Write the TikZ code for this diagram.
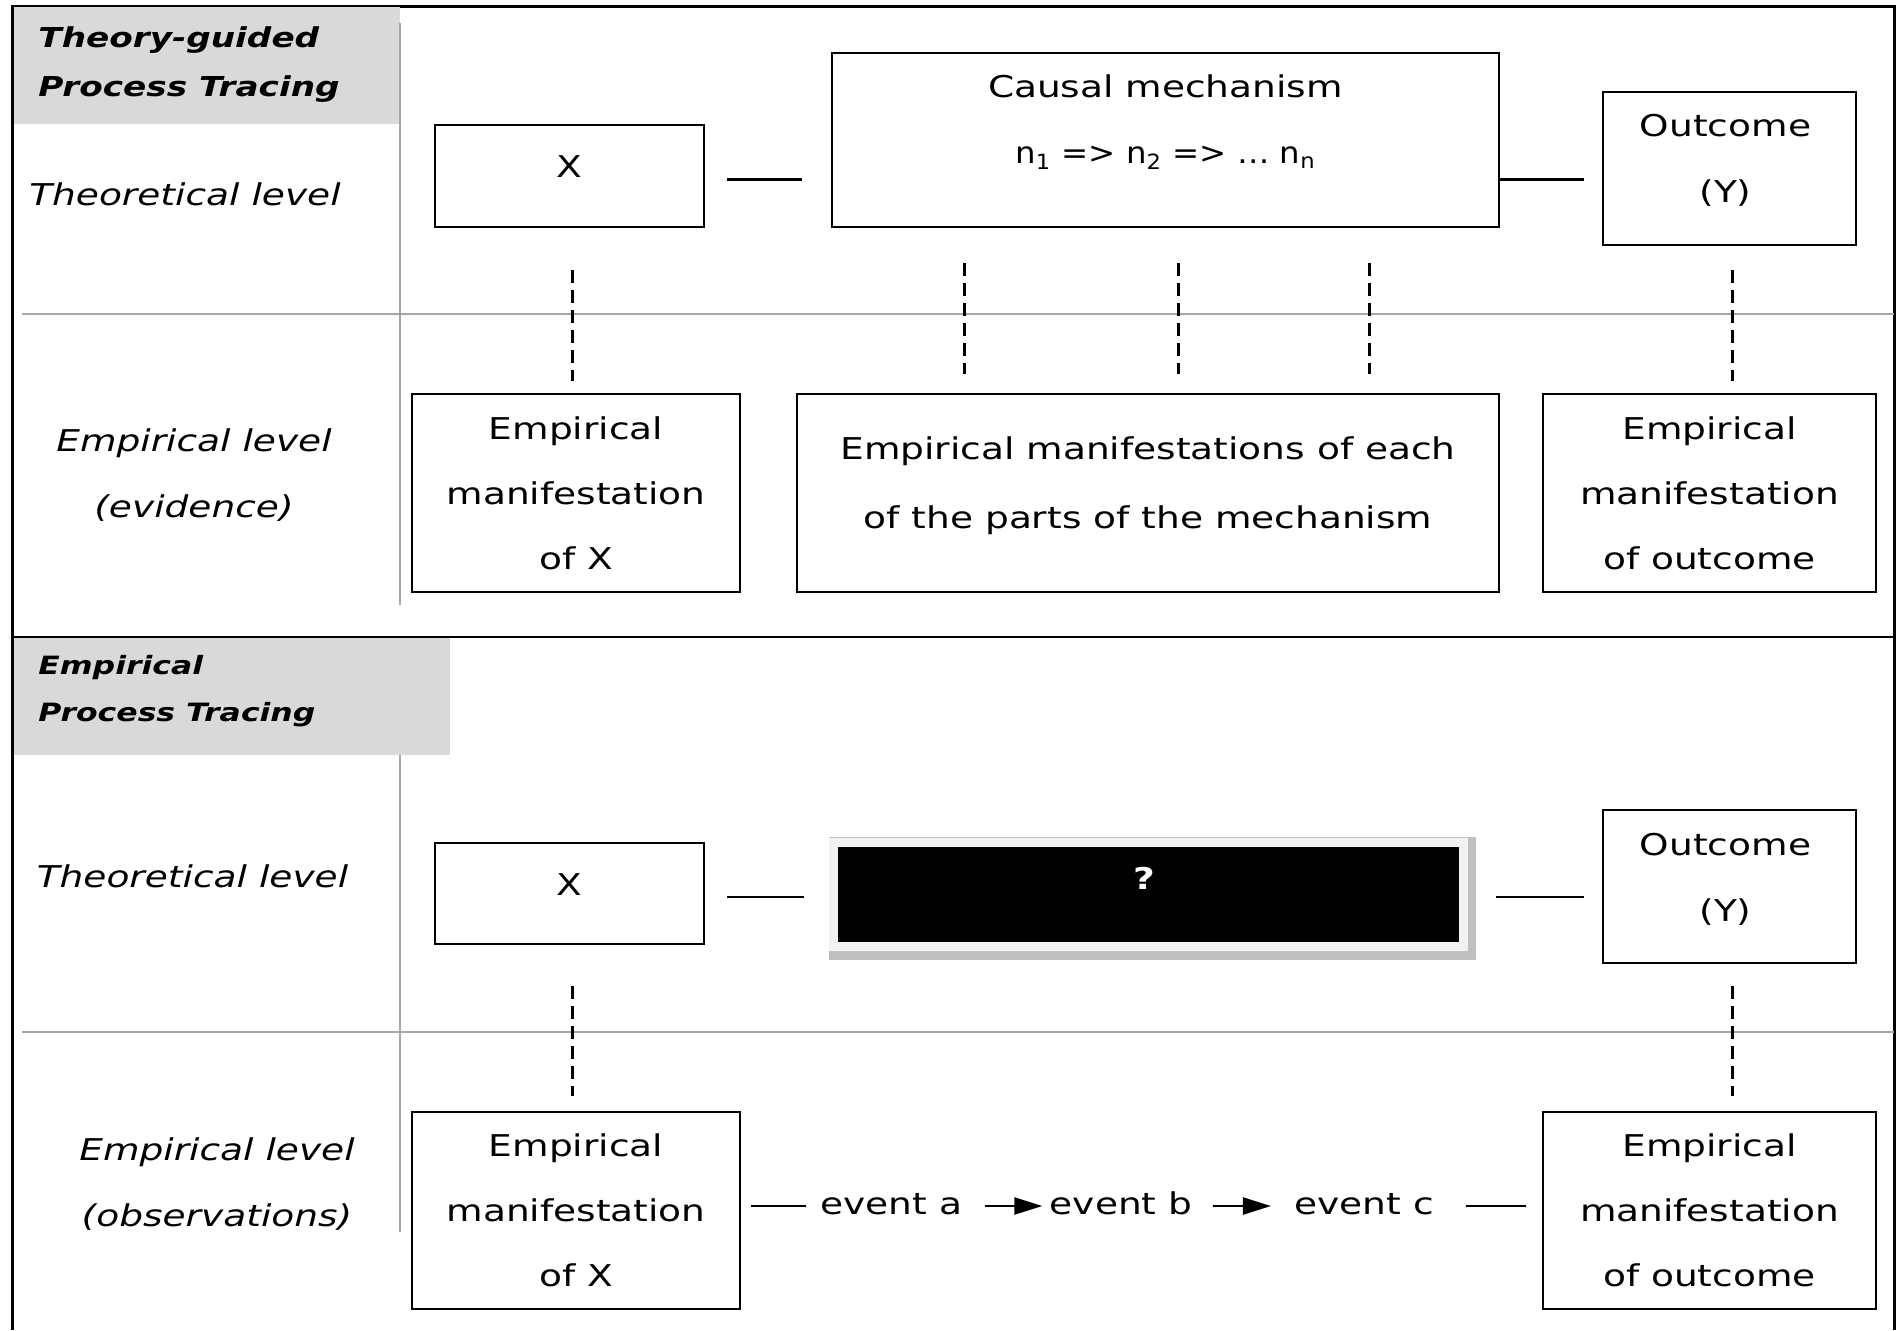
\documentclass[tikz,border=0pt]{standalone}
\usepackage{fontspec}
\setmainfont{DejaVu Sans}[FakeStretch=1.25]
\newfontfamily\narrowfont{DejaVu Sans}[FakeStretch=1.08]
\usetikzlibrary{positioning,calc,arrows.meta}
\pgfdeclarelayer{background}
\pgfsetlayers{background,main}

\definecolor{hdrgrey}{gray}{0.85}
\definecolor{rulegrey}{gray}{0.65}
\definecolor{rimgrey}{gray}{0.95}
\definecolor{shadegrey}{gray}{0.75}

\tikzset{
  every node/.style={font=\fontsize{15}{32.5}\selectfont},
  box/.style={draw, line width=1.35pt, inner sep=0pt, align=center},
  txt/.style={inner sep=0pt, align=center},
  lvl/.style={inner sep=0pt, align=center, font=\fontsize{15}{33}\selectfont\itshape},
  hdr/.style={anchor=north west, inner sep=0pt, align=left},
  link/.style={line width=1.15pt},
  leads/.style={link, -{Triangle[length=14pt,width=8.5pt]}},
  dashlink/.style={line width=1.5pt, dash pattern=on 6.5pt off 3.5pt},
  rule/.style={rulegrey, line width=1.3pt},
  event/.style={inner sep=0pt, anchor=base, text height=8pt, text depth=0pt}
}

\begin{document}
\begin{tikzpicture}[x=0.5pt, y=-0.5pt]
\useasboundingbox (0,0) rectangle (1901,1330);

\draw[line width=1.5pt] (12,1330) |- (1894,6) -- (1894,1330);
\draw[line width=1.15pt] (12,637) -- (1894,637);

% theory-guided panel
\fill[hdrgrey] (14,7) rectangle (400,124);
\node[hdr, font=\fontsize{13.7}{24.2}\selectfont\bfseries\itshape] (hdr1) at (38,26.4)
  {Theory-guided\\Process Tracing};
\draw[rule] (400,23) -- (400,605);
\draw[rule] (22,314) -- (1894,314);
\node[lvl] (th1) at (185,194.5) {Theoretical level};
\node[lvl] (em1) at (194,475) {Empirical level\\(evidence)};

\node[box, minimum width=134.5pt, minimum height=51pt, text depth=9pt] (x1) at (569.5,176) {X};
\node[box, minimum width=333.5pt, minimum height=87pt] (cm1) at (1165.5,140) {};
\node[txt, font=\fontsize{15}{33}\selectfont, below=11.5pt of cm1.north] (cm1t)
  {Causal mechanism\\{\narrowfont n\textsubscript{1} => n\textsubscript{2} => … n\textsubscript{n}}};
\node[box, minimum width=126.5pt, minimum height=76.5pt] (y1) at (1729.5,168.5) {};
\node[txt, font=\fontsize{15}{32.75}\selectfont, below=11.7pt of y1.north, xshift=-2pt] (y1t) {Outcome\\(Y)};

\node[box, minimum width=164pt, minimum height=99pt] (e1) at (576,493) {Empirical\\manifestation\\of X};
\node[box, minimum width=351pt, minimum height=99pt] (e2) at (1148,493) {};
\node[txt, font=\fontsize{15}{34.5}\selectfont, below=21.7pt of e2.north] (e2t)
  {Empirical manifestations of each\\of the parts of the mechanism};
\node[box, minimum width=166.5pt, minimum height=99pt] (e3) at (1709.5,493) {Empirical\\manifestation\\of outcome};

\coordinate (l1) at ([yshift=-1.75pt]x1.east);
\draw[link, shorten <=11pt, shorten >=14.5pt] (l1) -- (l1 -| cm1.west);
\draw[link, shorten >=9pt] (cm1.east |- l1) -- (y1.west |- l1);
\coordinate (dx1) at ([xshift=1.25pt]x1.south);
\draw[dashlink, shorten <=21pt, shorten >=6pt] (dx1) -- (dx1 |- e1.north);
\foreach \f in {0.2,0.52,0.805} {
  \coordinate (mp) at ($(cm1.south west)!\f!(cm1.south east)$);
  \draw[dashlink, shorten <=17.5pt, shorten >=9.5pt] (mp) -- (mp |- e2.north);
}
\coordinate (dy1) at ([xshift=1.25pt]y1.south);
\draw[dashlink, shorten <=12pt, shorten >=6pt] (dy1) -- (dy1 |- e3.north);

% empirical panel
\fill[hdrgrey] (14,638) rectangle (450,755);
\node[hdr, font=\fontsize{12.6}{23.5}\selectfont\bfseries\itshape] (hdr2) at (38,654.5)
  {Empirical\\Process Tracing};
\draw[rule] (400,755) -- (400,1232);
\draw[rule] (22,1032) -- (1894,1032);
\node[lvl] (th2) at (192.5,876) {Theoretical level};
\node[lvl] (em2) at (217,1184) {Empirical level\\(observations)};

\node[box, minimum width=134.5pt, minimum height=50.5pt, text depth=8.5pt] (x2) at (569.5,893.5) {X};
\node[draw=rimgrey, line width=4.5pt, fill=black, inner sep=0pt,
  minimum width=314.75pt, minimum height=52.25pt] (qm) at (1148.25,894.25) {};
\node[inner sep=0pt, text=white, font=\fontsize{15}{18}\selectfont\bfseries] (qmt) at (1144,878) {?};
\begin{pgfonlayer}{background}
\fill[shadegrey] ([shift={(-0.5,-0.5)}]qm.north west) rectangle ([shift={(8.5,8.5)}]qm.south east);
\end{pgfonlayer}
\node[box, minimum width=126.5pt, minimum height=76.5pt] (y2) at (1729.5,886.5) {};
\node[txt, font=\fontsize{15}{33}\selectfont, below=12pt of y2.north, xshift=-2pt] (y2t) {Outcome\\(Y)};

\node[box, minimum width=164pt, minimum height=98.5pt] (e4) at (576,1210.5) {Empirical\\manifestation\\of X};
\node[box, minimum width=166.5pt, minimum height=98.5pt] (e6) at (1709.5,1210.5) {Empirical\\manifestation\\of outcome};
\node[event] (eva) at (891.5,1214) {event a};
\node[event] (evb) at (1121,1214) {event b};
\node[event] (evc) at (1364,1214) {event c};

\coordinate (l2) at ([yshift=-1.75pt]x2.east);
\draw[link, shorten <=11pt, shorten >=12.75pt] (l2) -- (l2 -| qm.west);
\draw[link, shorten <=14pt, shorten >=9pt] (qm.east |- l2) -- (y2.west |- l2);
\coordinate (dx2) at ([xshift=1.25pt]x2.south);
\draw[dashlink, shorten <=20.5pt, shorten >=7.5pt] (dx2) -- (dx2 |- e4.north);
\coordinate (dy2) at ([xshift=1.25pt]y2.south);
\draw[dashlink, shorten <=11pt, shorten >=7.5pt] (dy2) -- (dy2 |- e6.north);
\draw[link, shorten <=5pt, shorten >=7pt] (e4.east |- eva.west) -- (eva.west);
\draw[leads, shorten <=11pt, shorten >=3.5pt] (eva) -- (evb);
\draw[leads, shorten <=10pt, shorten >=11.5pt] (evb) -- (evc);
\draw[link, shorten <=16pt, shorten >=8pt] (evc) -- (evc -| e6.west);
\end{tikzpicture}
\end{document}
